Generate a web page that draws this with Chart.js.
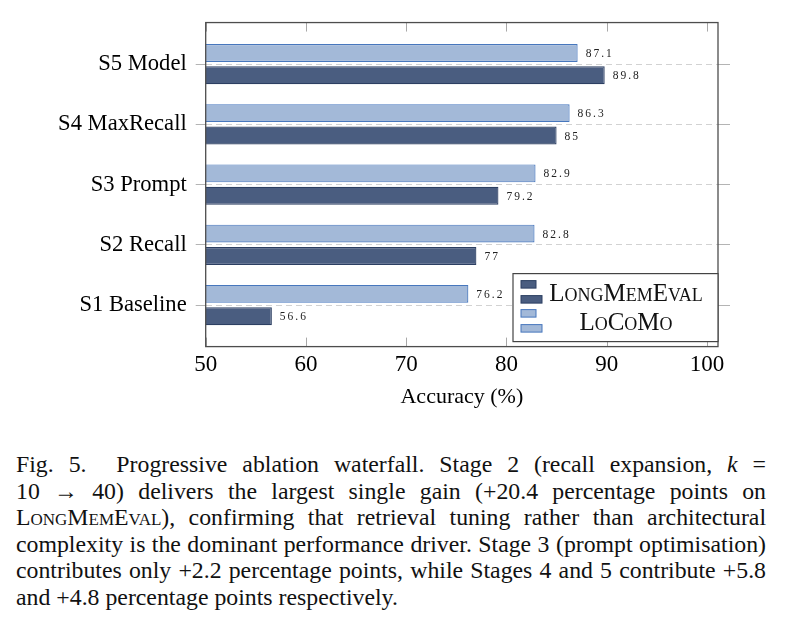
<!DOCTYPE html>
<html>
<head>
<meta charset="utf-8">
<script src="https://cdn.jsdelivr.net/npm/chart.js@4.4.1/dist/chart.umd.min.js"></script>
<style>
    body { margin: 0; background: #fff; width: 785px; height: 627px; overflow: hidden; position: relative; font-family: 'Liberation Serif', serif; }
    #wrap { position: absolute; left: 0; top: 0; width: 785px; height: 430px; }
    #caption { position: absolute; left: 16px; top: 451px; width: 750px; font-size: 23.8px; line-height: 26.6px; color: #111; }
    #caption div { text-align: justify; text-align-last: justify; }
    #caption div.last { text-align-last: left; }
    .sc { font-variant: small-caps; }
</style>
</head>
<body>
<div id="wrap"><canvas id="chart"></canvas></div>
<div id="caption">
    <div>Fig. 5.&nbsp; Progressive ablation waterfall. Stage 2 (recall expansion, <i>k</i> =</div>
    <div>10 &rarr; 40) delivers the largest single gain (+20.4 percentage points on</div>
    <div><span class="sc">LongMemEval</span>), confirming that retrieval tuning rather than architectural</div>
    <div>complexity is the dominant performance driver. Stage 3 (prompt optimisation)</div>
    <div>contributes only +2.2 percentage points, while Stages 4 and 5 contribute +5.8</div>
    <div class="last">and +4.8 percentage points respectively.</div>
</div>
<script>
// chart values
const categories = ['S1 Baseline', 'S2 Recall', 'S3 Prompt', 'S4 MaxRecall', 'S5 Model'];
const longMemEval = [56.6, 77, 79.2, 85, 89.8];
const locomo = [76.2, 82.8, 82.9, 86.3, 87.1];
const xTicks = [50, 60, 70, 80, 90, 100];
const seriesNames = ['LongMemEval', 'LoCoMo'];

const serif = "'Liberation Serif', 'Times New Roman', serif";
const darkFill = '#4a5d80';
const darkEdge = '#2c3f62';
const lightFill = '#a3b9d8';
const lightEdge = '#4777bd';

// turn a value list into {x, y} points, y = category index
function toPoints(values) {
    return values.map((v, i) => ({ x: v, y: i }));
}

// frame round the plot and the small inside ticks on the x axis
const framePlugin = {
    id: 'frame',
    afterDatasetsDraw(chart) {
        const ctx = chart.ctx;
        const area = chart.chartArea;
        const xScale = chart.scales.x;

        ctx.save();
        ctx.strokeStyle = '#a8a8a8';
        ctx.lineWidth = 1;
        xScale.ticks.forEach(t => {
            const px = Math.round(xScale.getPixelForValue(t.value)) + 0.5;
            ctx.beginPath();
            ctx.moveTo(px, area.bottom);
            ctx.lineTo(px, area.bottom - 9);
            ctx.moveTo(px, area.top);
            ctx.lineTo(px, area.top + 9);
            ctx.stroke();
        });

        ctx.strokeStyle = '#4d4d4d';
        ctx.lineWidth = 1.3;
        ctx.strokeRect(area.left, area.top, area.right - area.left, area.bottom - area.top);
        ctx.restore();
    }
};

// small value labels at the end of each bar
const valueLabels = {
    id: 'valueLabels',
    afterDatasetsDraw(chart) {
        const ctx = chart.ctx;
        ctx.save();
        ctx.font = "11.5px " + serif;
        ctx.letterSpacing = '2px';
        ctx.fillStyle = '#222';
        ctx.textAlign = 'left';
        ctx.textBaseline = 'middle';
        chart.data.datasets.forEach((ds, di) => {
            const meta = chart.getDatasetMeta(di);
            meta.data.forEach((bar, i) => {
                ctx.fillText(String(ds.data[i].x), bar.x + 8, bar.y + 1);
            });
        });
        ctx.restore();
    }
};

// pgfplots style legend box in the lower right corner
const boxLegend = {
    id: 'boxLegend',
    afterDraw(chart) {
        const ctx = chart.ctx;
        const area = chart.chartArea;
        const w = 205;
        const h = 68;
        const left = area.right - w;
        const top = area.bottom - 5 - h;

        ctx.save();
        ctx.fillStyle = '#fff';
        ctx.fillRect(left, top, w, h);
        ctx.strokeStyle = '#444';
        ctx.lineWidth = 1.2;
        ctx.strokeRect(left, top, w, h);

        // LongMemEval first in the legend, LoCoMo second
        const entries = [
            { name: seriesNames[0], fill: darkFill, edge: darkEdge },
            { name: seriesNames[1], fill: lightFill, edge: lightEdge }
        ];
        entries.forEach((e, k) => {
            const y0 = top + 7 + k * 29;
            ctx.fillStyle = e.fill;
            ctx.strokeStyle = e.edge;
            ctx.lineWidth = 1;
            ctx.fillRect(left + 8, y0, 15, 7.5);
            ctx.strokeRect(left + 8, y0, 15, 7.5);
            ctx.fillRect(left + 8, y0 + 15, 21, 7.5);
            ctx.strokeRect(left + 8, y0 + 15, 21, 7.5);

            ctx.fillStyle = '#111';
            ctx.font = "small-caps 25px " + serif;
            ctx.textAlign = 'center';
            ctx.textBaseline = 'alphabetic';
            ctx.fillText(e.name, left + 113, top + 27 + k * 29);
        });
        ctx.restore();
    }
};

function categoryTicks(scale) {
    scale.ticks = categories.map((c, i) => ({ value: i }));
}

function displayChart() {
    const ctx = document.getElementById('chart');

    new Chart(ctx, {
        type: 'bar',
        data: {
            datasets: [{
                label: seriesNames[1],
                data: toPoints(locomo),
                backgroundColor: lightFill,
                borderColor: lightEdge,
                borderWidth: 1.2
            }, {
                label: seriesNames[0],
                data: toPoints(longMemEval),
                backgroundColor: darkFill,
                borderColor: darkEdge,
                borderWidth: 1.2
            }]
        },
        options: {
            indexAxis: 'y',
            responsive: true,
            maintainAspectRatio: false,
            animation: false,
            categoryPercentage: 0.744,
            barPercentage: 0.8,
            layout: { padding: { top: 21, bottom: 20, left: 0, right: 0 } },
            plugins: {
                legend: { display: false },
                tooltip: { enabled: false }
            },
            scales: {
                x: {
                    type: 'linear',
                    min: 50,
                    max: 101.1,
                    afterBuildTicks: s => { s.ticks = xTicks.map(v => ({ value: v })); },
                    ticks: {
                        font: { family: serif, size: 23, lineHeight: 1.0 },
                        color: '#000',
                        padding: 7,
                        maxRotation: 0
                    },
                    grid: { display: false, drawTicks: false },
                    border: { display: false },
                    title: {
                        display: true,
                        text: 'Accuracy (%)',
                        font: { family: serif, size: 22 },
                        color: '#000',
                        padding: { top: 0, bottom: 0 }
                    }
                },
                y: {
                    type: 'linear',
                    position: 'left',
                    offset: false,
                    min: -0.69,
                    max: 4.69,
                    afterBuildTicks: categoryTicks,
                    afterFit: s => { s.width = 205.7; },
                    ticks: {
                        callback: v => categories[v],
                        font: { family: serif, size: 22.6 },
                        color: '#000',
                        padding: 9,
                        autoSkip: false
                    },
                    grid: {
                        offset: false,
                        color: '#d2d2d2',
                        lineWidth: 1,
                        borderDash: [6, 4],
                        tickLength: 10,
                        tickColor: '#b4b4b4',
                        tickBorderDash: [100, 0]
                    },
                    border: { display: false, dash: [6, 4] }
                },
                y2: {
                    type: 'linear',
                    position: 'right',
                    offset: false,
                    min: -0.69,
                    max: 4.69,
                    afterBuildTicks: categoryTicks,
                    afterFit: s => { s.width = 67; },
                    ticks: { display: false },
                    grid: {
                        offset: false,
                        drawOnChartArea: false,
                        tickLength: 12,
                        tickColor: '#b4b4b4',
                        tickBorderDash: [100, 0]
                    },
                    border: { display: false }
                }
            }
        },
        plugins: [framePlugin, valueLabels, boxLegend]
    });
}

displayChart();
</script>
</body>
</html>
